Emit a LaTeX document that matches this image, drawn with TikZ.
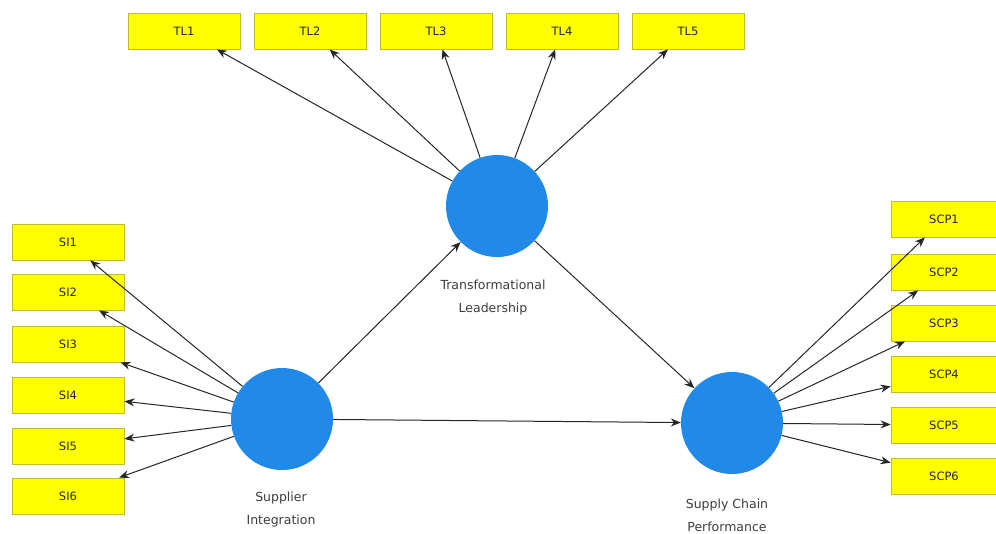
\documentclass[tikz,border=0pt]{standalone}
\usepackage{fontspec}
\setmainfont{DejaVu Sans}
\usetikzlibrary{arrows.meta}
\definecolor{boxyellow}{RGB}{255,255,0}
\definecolor{boxedge}{RGB}{190,190,40}
\definecolor{lvblue}{RGB}{33,137,232}
\definecolor{labelgray}{RGB}{60,60,60}
\tikzset{
  ind/.style={draw=boxedge, line width=0.8pt, fill=boxyellow, minimum width=112pt, minimum height=36pt, inner sep=0pt, font=\fontsize{11.5}{13}\selectfont, text=black!85},
  indr/.style={ind, minimum width=106pt},
  lv/.style={circle, fill=lvblue, minimum size=102pt, inner sep=0pt},
  lvlabel/.style={align=center, font=\fontsize{12.5}{23}\selectfont, text=labelgray},
  link/.style={draw=black!85, line width=1pt, -{Stealth[length=10pt,width=8pt]}}
}
\begin{document}
\begin{tikzpicture}[x=1pt,y=-1pt]
\useasboundingbox (0,0) rectangle (996,533);
% latent variables
\node[lv] (TL) at (497,206) {};
\node[lv] (SI) at (282,419) {};
\node[lv] (SCP) at (732,423) {};
\node[lvlabel] (TLlab) at (493,298) {Transformational\\Leadership};
\node[lvlabel] (SIlab) at (281,510) {Supplier\\Integration};
\node[lvlabel] (SCPlab) at (727,515) {Supply Chain\\Performance};
% TL indicators
\node[ind] (tl1) at (184,31) {TL1};
\node[ind] (tl2) at (310,31) {TL2};
\node[ind] (tl3) at (436,31) {TL3};
\node[ind] (tl4) at (562,31) {TL4};
\node[ind] (tl5) at (688,31) {TL5};
% SI indicators
\node[ind] (si1) at (68,242) {SI1};
\node[ind] (si2) at (68,292) {SI2};
\node[ind] (si3) at (68,344) {SI3};
\node[ind] (si4) at (68,395) {SI4};
\node[ind] (si5) at (68,446) {SI5};
\node[ind] (si6) at (68,496) {SI6};
% SCP indicators
\node[indr] (scp1) at (944,219) {SCP1};
\node[indr] (scp2) at (944,272) {SCP2};
\node[indr] (scp3) at (944,323) {SCP3};
\node[indr] (scp4) at (944,374) {SCP4};
\node[indr] (scp5) at (944,425) {SCP5};
\node[indr] (scp6) at (944,476) {SCP6};
% loadings
\foreach \t in {tl1,tl2,tl3,tl4,tl5} \draw[link] (TL) -- (\t);
\foreach \t in {si1,si2,si3,si4,si5,si6} \draw[link] (SI) -- (\t);
\foreach \t in {scp1,scp2,scp3,scp4,scp5,scp6} \draw[link] (SCP) -- (\t);
% structural paths
\draw[link] (SI) -- (TL);
\draw[link] (TL) -- (SCP);
\draw[link] (SI) -- (SCP);
\end{tikzpicture}
\end{document}
